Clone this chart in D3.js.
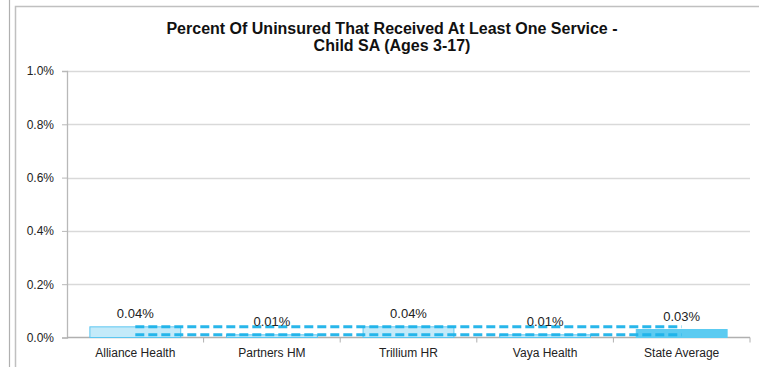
<!DOCTYPE html>
<html>
<head>
<meta charset="utf-8">
<script src="https://cdn.jsdelivr.net/npm/d3@7"></script>
<style>
  html, body { margin: 0; padding: 0; background: #fff; }
  svg { display: block; font-family: "Liberation Sans", Arial, sans-serif; }
</style>
</head>
<body>
<svg id="chart" width="759" height="367"></svg>
<script>
// Percent of uninsured children (3-17) receiving at least one SA service
const categories = ["Alliance Health", "Partners HM", "Trillium HR", "Vaya Health", "State Average"];
const percentValues = [0.04, 0.01, 0.04, 0.01, 0.03];
const valueLabels = ["0.04%", "0.01%", "0.04%", "0.01%", "0.03%"];
const upperReference = [0.04, 0.04, 0.04, 0.04, 0.04];
const lowerReference = [0.01, 0.01, 0.01, 0.01, 0.01];
const yTicks = [0, 0.2, 0.4, 0.6, 0.8, 1.0];
const titleLines = ["Percent Of Uninsured That Received At Least One Service -", "Child SA (Ages 3-17)"];

const svg = d3.select("#chart");
const W = 759, H = 367;
const margin = { left: 67, right: 9, top: 71, bottom: 29 };

// outer frame
svg.append("line").attr("x1", 9.5).attr("x2", 9.5).attr("y1", 0).attr("y2", H)
  .attr("stroke", "#b0b0b0").attr("stroke-width", 1.2);
svg.append("path").attr("d", `M15.5,${H} L15.5,6.5 L${W},6.5`)
  .attr("fill", "none").attr("stroke", "#c0c0c0").attr("stroke-width", 1.5);

const x = d3.scaleBand().domain(categories).range([margin.left, W - margin.right]).paddingInner(0).paddingOuter(0);
const y = d3.scaleLinear().domain([0, 1.0]).range([H - margin.bottom - 0.5, margin.top]);

// gridlines
svg.append("g").selectAll("line").data(yTicks.filter(d => d > 0)).join("line")
  .attr("x1", margin.left).attr("x2", W - margin.right)
  .attr("y1", d => Math.round(y(d)) + 0.5).attr("y2", d => Math.round(y(d)) + 0.5)
  .attr("stroke", "#d9d9d9").attr("stroke-width", 1.3);

// y axis
const yAxis = svg.append("g").attr("transform", `translate(${margin.left},0)`)
  .call(d3.axisLeft(y).tickValues(yTicks).tickFormat(d => d.toFixed(1) + "%").tickSize(5).tickPadding(8));
yAxis.select(".domain").attr("stroke", "#b8b8b8").attr("stroke-width", 1.3);
yAxis.selectAll(".tick line").attr("stroke", "#b8b8b8");
yAxis.selectAll(".tick text").attr("font-size", 12).attr("fill", "#222")
  .attr("font-family", "'Liberation Sans', Arial, sans-serif");

// x axis with ticks at band boundaries
const y0 = y(0);
const xg = svg.append("g");
xg.append("line").attr("x1", margin.left).attr("x2", W - margin.right)
  .attr("y1", y0).attr("y2", y0).attr("stroke", "#b0b0b0").attr("stroke-width", 1.3);
const bounds = categories.map(c => x(c)).concat([x(categories[categories.length - 1]) + x.bandwidth()]);
xg.selectAll("line.tk").data(bounds.slice(1)).join("line").attr("class", "tk")
  .attr("x1", d => d).attr("x2", d => d).attr("y1", y0).attr("y2", y0 + 5)
  .attr("stroke", "#b0b0b0").attr("stroke-width", 1);
xg.selectAll("text").data(categories).join("text")
  .attr("x", d => x(d) + x.bandwidth() / 2).attr("y", y0 + 19)
  .attr("text-anchor", "middle").attr("font-size", 12).attr("fill", "#222").text(d => d);

// bars
const barW = x.bandwidth() * 0.665;
const isAvg = d => d === "State Average";
svg.append("g").selectAll("rect").data(categories).join("rect")
  .attr("x", d => x(d) + (x.bandwidth() - barW) / 2)
  .attr("width", barW)
  .attr("y", (d, i) => y(percentValues[i]))
  .attr("height", (d, i) => y0 - y(percentValues[i]))
  .attr("fill", d => isAvg(d) ? "#5ccbf1" : "#c4eaf9")
  .attr("stroke", d => isAvg(d) ? "#5ccbf1" : "#5cc6f0")
  .attr("stroke-width", 1);

// dashed reference lines from first to last category centre
const line = d3.line().x((d, i) => x(categories[i]) + x.bandwidth() / 2).y(d => y(d));
[upperReference, lowerReference].forEach(series => {
  svg.append("path").datum(series).attr("d", line)
    .attr("fill", "none").attr("stroke", "#1cb2e9").attr("stroke-width", 3)
    .attr("stroke-dasharray", "9,4").attr("stroke-opacity", 0.95);
});

// value labels
svg.append("g").selectAll("text").data(categories).join("text")
  .attr("x", d => x(d) + x.bandwidth() / 2)
  .attr("y", (d, i) => y(percentValues[i]) - 9)
  .attr("text-anchor", "middle").attr("font-size", 13).attr("fill", "#222")
  .text((d, i) => valueLabels[i]);

// title
const title = svg.append("text").attr("x", 392).attr("text-anchor", "middle")
  .attr("font-size", 16).attr("font-weight", "bold").attr("fill", "#111");
titleLines.forEach((t, i) => title.append("tspan").attr("x", 392).attr("y", 33.5 + i * 17).text(t));
</script>
</body>
</html>
